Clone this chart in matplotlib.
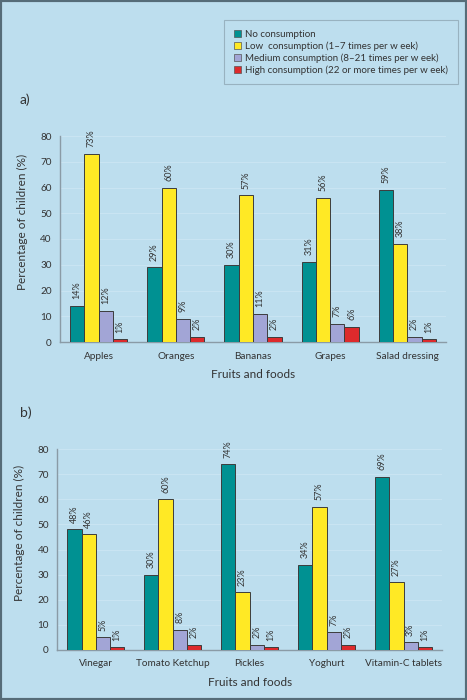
import matplotlib
matplotlib.use("Agg")
import matplotlib.pyplot as plt
import numpy as np
from matplotlib.patches import Rectangle, Patch

plt.rcParams['font.family'] = ['Lato', 'DejaVu Sans']

# ---- data ----
cats_a = ["Apples", "Oranges", "Bananas", "Grapes", "Salad dressing"]
none_a = [14, 29, 30, 31, 59]
low_a = [73, 60, 57, 56, 38]
med_a = [12, 9, 11, 7, 2]
high_a = [1, 2, 2, 6, 1]

cats_b = ["Vinegar", "Tomato Ketchup", "Pickles", "Yoghurt", "Vitamin-C tablets"]
none_b = [48, 30, 74, 34, 69]
low_b = [46, 60, 23, 57, 27]
med_b = [5, 8, 2, 7, 3]
high_b = [1, 2, 1, 2, 1]

series_names = ["No consumption",
                "Low  consumption (1\u20137 times per w eek)",
                "Medium consumption (8\u201321 times per w eek)",
                "High consumption (22 or more times per w eek)"]
yticks = [0, 10, 20, 30, 40, 50, 60, 70, 80]
xlabel = "Fruits and foods"
ylabel = "Percentage of children (%)"

colors = ["#009192", "#ffe925", "#a2a5d6", "#dd2a2c"]
bg = "#bddeee"
txt = "#333333"
spine_c = "#8a9ba6"

fig = plt.figure(figsize=(4.67, 7.0), dpi=100, facecolor=bg)

def panel(rect, cats, data, label, label_xy):
    ax = fig.add_axes(rect)
    ax.set_facecolor(bg)
    x = np.arange(len(cats))
    w = 0.185
    for i, vals in enumerate(data):
        pos = x + (i - 1.5) * w
        bars = ax.bar(pos, vals, width=w, color=colors[i], edgecolor="#3c3c3c",
                      linewidth=0.7, zorder=3)
        for b, v in zip(bars, vals):
            ax.text(b.get_x() + b.get_width() / 2, v + 2.6, f"{v}%", rotation=90,
                    ha="center", va="bottom", fontsize=6.5, color=txt, zorder=4)
    ax.set_xlim(-0.5, len(cats) - 0.5)
    ax.set_ylim(0, 80)
    ax.set_yticks(yticks)
    ax.set_xticks(x)
    ax.set_xticklabels(cats)
    ax.tick_params(axis="both", length=0, labelsize=7.2, colors=txt)
    ax.tick_params(axis="y", pad=6)
    ax.tick_params(axis="x", pad=7)
    for s in ["top", "right"]:
        ax.spines[s].set_visible(False)
    for s in ["left", "bottom"]:
        ax.spines[s].set_color(spine_c)
        ax.spines[s].set_linewidth(1.0)
    ax.yaxis.grid(True, color="#cce6f3", linewidth=0.6, zorder=0)
    ax.set_axisbelow(True)
    ax.set_xlabel(xlabel, fontsize=8.5, color=txt, labelpad=6)
    ax.set_ylabel(ylabel, fontsize=8.5, color=txt)
    fig.text(label_xy[0], label_xy[1], label, fontsize=10, color=txt,
             ha="left", va="center")
    return ax

ax_a = panel([60 / 467, 1 - 342 / 700, 386 / 467, 206 / 700], cats_a,
             [none_a, low_a, med_a, high_a], "a)", (20 / 467, 1 - 100 / 700))
ax_a.yaxis.set_label_coords(-32 / 386, (342 - 222) / 206)

ax_b = panel([57.3 / 467, 1 - 649.7 / 700, 384.7 / 467, 200.4 / 700], cats_b,
             [none_b, low_b, med_b, high_b], "b)", (20 / 467, 1 - 413 / 700))
ax_b.yaxis.set_label_coords(-32 / 384.7, (649.7 - 533) / 200.4)

handles = [Patch(facecolor=c, edgecolor="#555555", linewidth=0.5) for c in colors]
leg = fig.legend(handles, series_names, loc="upper left",
                 bbox_to_anchor=(224 / 467, 1 - 20 / 700), fontsize=7,
                 frameon=True, fancybox=False, handlelength=0.7, handleheight=0.7,
                 handletextpad=0.5, labelspacing=0.25, borderpad=1.0,
                 borderaxespad=0)
leg.get_frame().set_facecolor(bg)
leg.get_frame().set_edgecolor("#8fa7b5")
leg.get_frame().set_linewidth(0.8)
for t in leg.get_texts():
    t.set_color(txt)

fig.patches.append(Rectangle((0, 0), 1, 1, transform=fig.transFigure,
                             fill=False, edgecolor="#566c78", linewidth=3))

fig.savefig("out.png", dpi=100, facecolor=bg)
